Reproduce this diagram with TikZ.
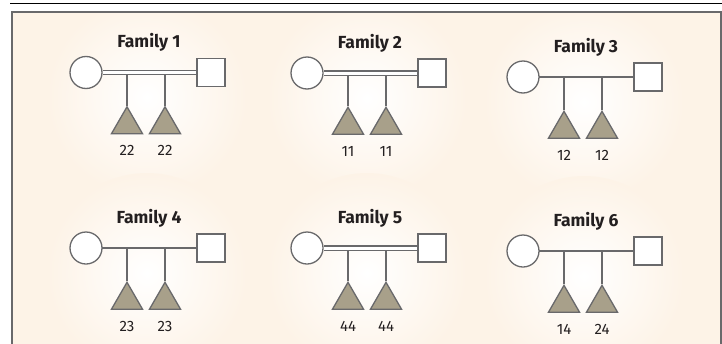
\documentclass[tikz,border=0pt]{standalone}
\usepackage{fontspec}
\setmainfont{Fira Sans}
\usetikzlibrary{shapes.geometric}
\definecolor{bgc}{RGB}{253,243,231}
\definecolor{lnc}{RGB}{105,105,107}
\definecolor{trc}{RGB}{168,160,138}
\definecolor{txc}{RGB}{35,31,32}
\newcommand\pedfamily[8]{%
  \node[female] (#1c) at (#2,#3) {};
  \node[male] (#1s) at (#2+125,#3) {};
  \coordinate (#1d1) at (#2+41,#3);
  \coordinate (#1d2) at (#2+79,#3);
  \node[child, anchor=corner 1] (#1t1) at (#2+41,#3+33) {};
  \node[child, anchor=corner 1] (#1t2) at (#2+79,#3+33) {};
  \draw[drop] (#1d1) -- (#1t1.corner 1);
  \draw[drop] (#1d2) -- (#1t2.corner 1);
  \draw[#4] (#1c) -- (#1s);
  \node[num, anchor=base] (#1n1) at (#2+41,#3+83) {#5};
  \node[num, anchor=base] (#1n2) at (#2+79,#3+83) {#6};
  \node[famtitle, anchor=base] (#1h) at (#2+63,#3-25) {#7};
}
\begin{document}
\begin{tikzpicture}[x=1pt,y=-1pt,
  person/.style={draw=lnc, fill=white, line width=1.3pt, inner sep=0pt},
  female/.style={person, circle, minimum size=32pt},
  male/.style={person, rectangle, minimum size=28pt},
  child/.style={draw=lnc, fill=trc, line width=1.3pt, regular polygon, regular polygon sides=3, minimum size=36pt, inner sep=0pt},
  drop/.style={draw=lnc, line width=1.3pt},
  single/.style={draw=lnc, line width=1.3pt, shorten <=-0.5pt, shorten >=-0.5pt},
  consang/.style={draw=lnc, line width=1.2pt, double=white, double distance=3pt},
  famtitle/.style={font=\fontseries{sb}\selectfont\fontsize{17.5}{20}\selectfont, text=txc, inner sep=0pt},
  num/.style={font=\fontsize{15}{17}\selectfont, text=txc, inner sep=0pt}]
\useasboundingbox (0,0) rectangle (722,343);
\clip (0,0) rectangle (722,343);
\fill[bgc] (12,12) rectangle (721,360);
\begin{scope}
  \clip (12,12) rectangle (721,360);
  \foreach \gx/\gy in {147/97, 367/98, 584/102, 147/273, 367/273, 584/276}
    \shade[inner color=white, outer color=bgc] (\gx,\gy) circle (100);
\end{scope}
\draw[lnc, line width=1.7pt] (12,360) -- (12,11.8) -- (721,11.8) -- (721,360);
\draw[black, line width=1pt] (10,3.8) -- (722,3.8);
\pedfamily{fa}{86}{72.5}{consang}{22}{22}{Family 1}{}
\pedfamily{fb}{307}{73}{consang}{11}{11}{Family 2}{}
\pedfamily{fc}{523}{77}{single}{12}{12}{Family 3}{}
\pedfamily{fd}{86}{248}{single}{23}{23}{Family 4}{}
\pedfamily{fe}{307}{248}{consang}{44}{44}{Family 5}{}
\pedfamily{ff}{523}{251}{single}{14}{24}{Family 6}{}
\end{tikzpicture}
\end{document}
